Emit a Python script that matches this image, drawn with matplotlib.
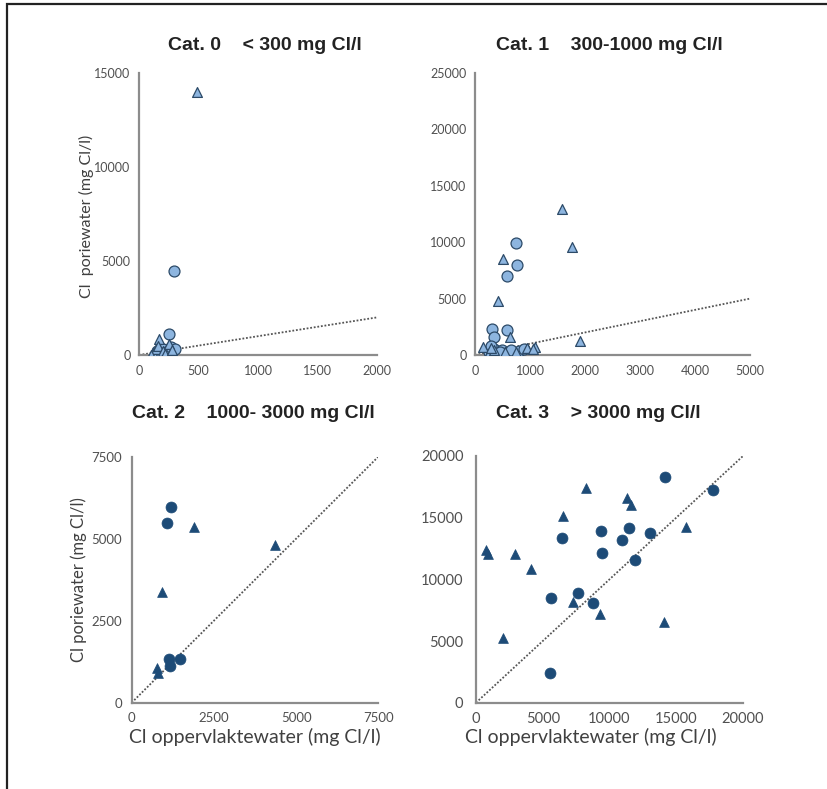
import matplotlib
matplotlib.use("Agg")
import matplotlib.pyplot as plt
from matplotlib.patches import Rectangle

plt.rcParams["font.family"] = ["Lato", "DejaVu Sans"]

# Cat. 0  (< 300 mg Cl/l)
cat0_circ_x = [290, 250, 200, 230, 270, 180, 150, 300]
cat0_circ_y = [4450, 1100, 300, 150, 450, 100, 200, 300]
cat0_tri_x = [490, 170, 120, 140, 160, 200, 250, 220, 280, 100]
cat0_tri_y = [14000, 850, 100, 300, 500, 200, 600, 50, 250, 0]

# Cat. 1  (300-1000 mg Cl/l)
cat1_circ_x = [746, 770, 577, 304, 588, 346, 250, 350, 400, 500, 600, 700, 800, 900, 300, 450, 650]
cat1_circ_y = [9900, 7980, 7010, 2310, 2220, 1630, 300, 500, 200, 400, 300, 100, 350, 500, 800, 250, 450]
cat1_tri_x = [1590, 1760, 504, 424, 637, 1910, 150, 250, 350, 550, 750, 950, 1100, 1050, 300]
cat1_tri_y = [12950, 9610, 8490, 4820, 1630, 1200, 700, 200, 400, 250, 300, 600, 700, 500, 600]

# Cat. 2  (1000-3000 mg Cl/l)
cat2_circ_x = [1186, 1064, 1134, 1468, 1164]
cat2_circ_y = [5980, 5490, 1324, 1324, 1119]
cat2_tri_x = [1894, 4356, 930, 778, 809]
cat2_tri_y = [5368, 4810, 3386, 1049, 915]

# Cat. 3  (> 3000 mg Cl/l)
cat3_circ_x = [14156, 17775, 6418, 9340, 9415, 11484, 10913, 13033, 11909, 5595, 7662, 8786, 5543]
cat3_circ_y = [18330, 17250, 13380, 13950, 12165, 14190, 13195, 13790, 11573, 8467, 8921, 8110, 2384]
cat3_tri_x = [8239, 11333, 11587, 6539, 726, 921, 2921, 4120, 15707, 7288, 9288, 14081, 2047]
cat3_tri_y = [17388, 16577, 16034, 15142, 12384, 12060, 12035, 10819, 14274, 8191, 7169, 6569, 5223]

titles = ["Cat. 0    < 300 mg Cl/l", "Cat. 1    300-1000 mg Cl/l",
          "Cat. 2    1000- 3000 mg Cl/l", "Cat. 3    > 3000 mg Cl/l"]
x_max = [2000, 5000, 7500, 20000]
y_max = [15000, 25000, 7500, 20000]
x_ticks = [[0, 500, 1000, 1500, 2000], [0, 1000, 2000, 3000, 4000, 5000],
           [0, 2500, 5000, 7500], [0, 5000, 10000, 15000, 20000]]
y_ticks = [[0, 5000, 10000, 15000], [0, 5000, 10000, 15000, 20000, 25000],
           [0, 2500, 5000, 7500], [0, 5000, 10000, 15000, 20000]]

W, H = 828, 789
fig = plt.figure(figsize=(W / 100, H / 100), dpi=100)

def px_axes(x0, y0, x1, y1):
    return fig.add_axes([x0 / W, 1 - y1 / H, (x1 - x0) / W, (y1 - y0) / H])

axes = [px_axes(139, 73, 377, 355), px_axes(475, 73, 750, 355),
        px_axes(131.7, 456.7, 378.3, 702.7), px_axes(476, 456, 743, 702.7)]
title_pos = [(265, 45), (609, 45), (253, 413), (598, 413)]
tick_sizes = [9, 9, 9.5, 10.5]
ypads = [6, 6, 7, 9]

light = "#8DB5DF"
light_edge = "#2C4A68"
dark = "#1D4B77"
data = [(cat0_circ_x, cat0_circ_y, cat0_tri_x, cat0_tri_y),
        (cat1_circ_x, cat1_circ_y, cat1_tri_x, cat1_tri_y),
        (cat2_circ_x, cat2_circ_y, cat2_tri_x, cat2_tri_y),
        (cat3_circ_x, cat3_circ_y, cat3_tri_x, cat3_tri_y)]

for i, ax in enumerate(axes):
    cx, cy, tx, ty = data[i]
    if i < 2:
        fc, ec, lw = light, light_edge, 0.9
    else:
        fc, ec, lw = dark, dark, 0.5
    lim = min(x_max[i], y_max[i])
    ax.plot([0, lim], [0, lim], linestyle=(0, (1, 1)), color="#555555", lw=1.3, zorder=1)
    ax.scatter(cx, cy, s=62, marker="o", facecolor=fc, edgecolor=ec, linewidth=lw, zorder=3)
    ax.scatter(tx, ty, s=50, marker="^", facecolor=fc, edgecolor=ec, linewidth=lw, zorder=3)
    ax.set_xlim(0, x_max[i])
    ax.set_ylim(0, y_max[i])
    ax.set_xticks(x_ticks[i])
    ax.set_yticks(y_ticks[i])
    for side in ["top", "right"]:
        ax.spines[side].set_visible(False)
    for side in ["left", "bottom"]:
        ax.spines[side].set_color("#8c8c8c")
        ax.spines[side].set_linewidth(1.6)
    ax.tick_params(length=0, labelsize=tick_sizes[i], labelcolor="#505050")
    ax.tick_params(axis="y", pad=ypads[i])
    ax.tick_params(axis="x", pad=7)
    ax.patch.set_alpha(0)
    fig.text(title_pos[i][0] / W, 1 - title_pos[i][1] / H, titles[i],
             ha="center", va="center", fontsize=14, fontweight="bold",
             color="#222222", family="Liberation Sans")

fig.text(86 / W, 1 - 216 / H, "Cl  poriewater (mg Cl/l)", rotation=90,
         ha="center", va="center", fontsize=11.5, color="#404040")
fig.text(79 / W, 1 - 580 / H, "Cl poriewater (mg Cl/l)", rotation=90,
         ha="center", va="center", fontsize=12, color="#404040")
fig.text(255 / W, 1 - 737 / H, "Cl oppervlaktewater (mg Cl/l)",
         ha="center", va="center", fontsize=14, color="#404040")
fig.text(591 / W, 1 - 737 / H, "Cl oppervlaktewater (mg Cl/l)",
         ha="center", va="center", fontsize=14, color="#404040")

# outer frame (cut off at right and bottom in the original)
fig.patches.append(Rectangle((7 / W, -0.1), 1.2, 1 - 4 / H + 0.1,
                             transform=fig.transFigure, fill=False,
                             edgecolor="#222222", lw=1.6))

fig.savefig("out.png", dpi=100)
